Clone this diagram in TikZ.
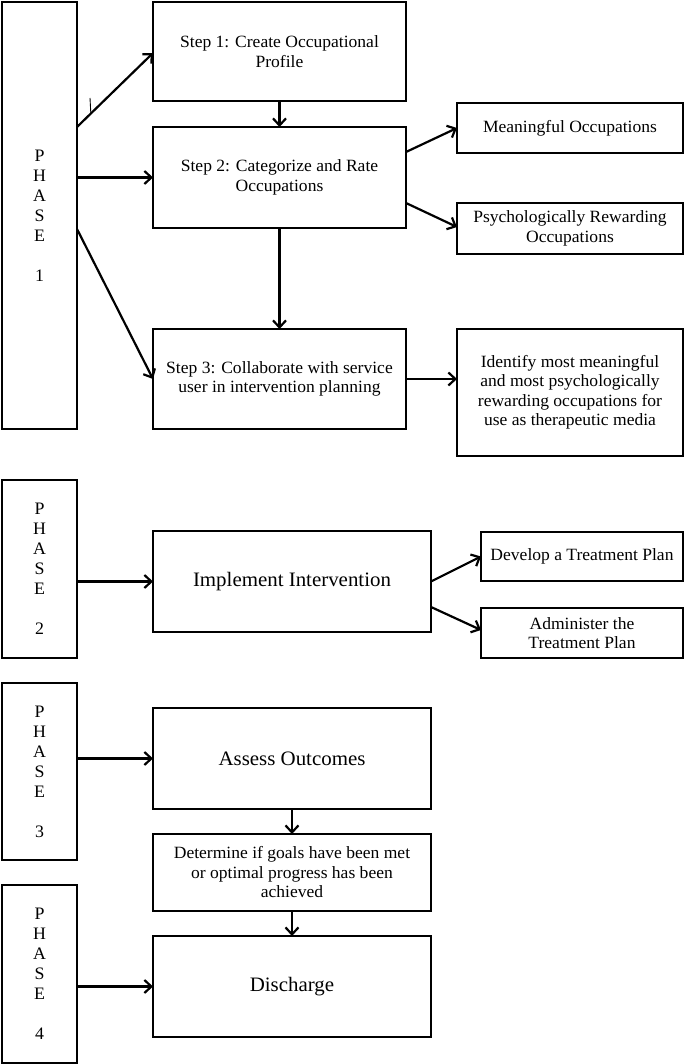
\documentclass[tikz,border=0pt]{standalone}
\usepackage{fontspec}
\setmainfont{Liberation Serif}[FakeStretch=1.02]
\usetikzlibrary{arrows.meta}
\begin{document}
\begin{tikzpicture}[x=1pt,y=-1pt,
  box/.style={draw,line width=2.2pt,rectangle,inner sep=0pt,outer sep=0pt,align=center,
    font=\fontsize{17.2}{19.5}\selectfont},
  bigbox/.style={box,font=\fontsize{20.5}{23}\selectfont},
  phasebox/.style={box,font=\fontsize{17.5}{20}\selectfont},
  arr/.style={line width=2.2pt,-{Straight Barb[length=7pt,width=13pt,line width=2.2pt]}}]
\useasboundingbox (0,0) rectangle (685,1064);
% Phase 1
\node[phasebox,minimum width=75pt,minimum height=427pt] (p1) at (39.5,215.5) {P\\H\\A\\S\\E\\[20pt]1};
\node[box,minimum width=253pt,minimum height=99pt] (s1) at (279.5,51.5) {Step 1: Create Occupational\\Profile};
\node[box,minimum width=253pt,minimum height=101pt] (s2) at (279.5,177.5) {Step 2: Categorize and Rate\\Occupations};
\node[box,minimum width=253pt,minimum height=100pt] (s3) at (279.5,379) {Step 3: Collaborate with service\\user in intervention planning};
\node[box,minimum width=226pt,minimum height=50pt] (mo) at (570,128) {Meaningful Occupations};
\node[box,minimum width=226pt,minimum height=51pt] (pr) at (570,228.5) {Psychologically Rewarding\\Occupations};
\node[box,minimum width=226pt,minimum height=127pt] (id) at (570,392.5) {Identify most meaningful\\and most psychologically\\rewarding occupations for\\use as therapeutic media};
% Phase 2
\node[phasebox,minimum width=75pt,minimum height=178pt] (p2) at (39.5,569) {P\\H\\A\\S\\E\\[20pt]2};
\node[bigbox,minimum width=278pt,minimum height=101pt] (ii) at (292,581.5) {Implement Intervention};
\node[box,minimum width=202pt,minimum height=49pt] (dt) at (582,556.5) {Develop a Treatment Plan};
\node[box,minimum width=202pt,minimum height=50pt] (at) at (582,633) {Administer the\\Treatment Plan};
% Phase 3
\node[phasebox,minimum width=75pt,minimum height=177pt] (p3) at (39.5,771.5) {P\\H\\A\\S\\E\\[20pt]3};
\node[bigbox,minimum width=278pt,minimum height=101pt] (ao) at (292,758.5) {Assess Outcomes};
\node[box,minimum width=278pt,minimum height=77pt] (dg) at (292,872.5) {Determine if goals have been met\\or optimal progress has been\\achieved};
% Phase 4
\node[phasebox,minimum width=75pt,minimum height=178pt] (p4) at (39.5,974) {P\\H\\A\\S\\E\\[20pt]4};
\node[bigbox,minimum width=278pt,minimum height=101pt] (dc) at (292,986.5) {Discharge};
% connectors
\draw[arr] ([yshift=-125pt]p1.north east) -- ([yshift=-1.5pt]s1.west);
\draw[arr] (p1.east |- s2.west) -- (s2.west);
\draw[arr] ([yshift=-227pt]p1.north east) -- (s3.west);
\draw[arr] (s1.south) -- (s2.north);
\draw[arr] (s2.south) -- (s3.north);
\draw[arr] ([yshift=25.5pt]s2.east) -- (mo.west);
\draw[arr] ([yshift=-25.5pt]s2.east) -- ([yshift=1.5pt]pr.west);
\draw[arr] (s3.east) -- (s3.east -| id.west);
\draw[arr] (p2.east |- ii.west) -- (ii.west);
\draw[arr] (ii.east) -- (dt.west);
\draw[arr] ([yshift=-25.5pt]ii.east) -- ([yshift=3pt]at.west);
\draw[arr] (p3.east |- ao.west) -- (ao.west);
\draw[arr] (ao.south) -- (dg.north);
\draw[arr] (dg.south) -- (dc.north);
\draw[arr] (p4.east |- dc.west) -- (dc.west);
% small stray tick
\coordinate (tka) at (90,98);
\coordinate (tkb) at (90.8,113);
\draw[line width=0.9pt] (tka) -- (tkb);
\end{tikzpicture}
\end{document}
